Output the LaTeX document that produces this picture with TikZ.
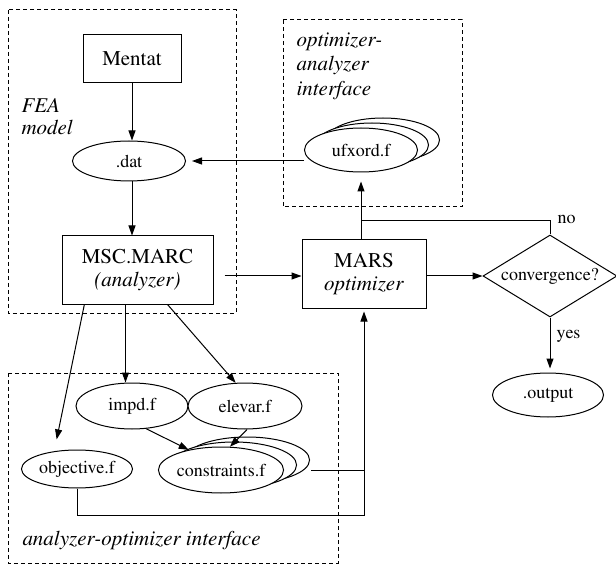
\documentclass[tikz,border=0pt]{standalone}
\usepackage[T1]{fontenc}
\usepackage{mathptmx}
\usetikzlibrary{arrows.meta,shapes.geometric,shadows}

\begin{document}
\begin{tikzpicture}[x = 1pt, y = -1pt, line width = 1pt,
    >={Triangle[length = 10pt, width = 7pt]},
    box/.style = {draw, rectangle, inner sep = 0pt, align = center,
                  font = \fontsize{21}{23}\selectfont},
    file/.style = {draw, ellipse, fill = white, inner sep = 0pt,
                   font = \fontsize{18}{20}\selectfont},
    decision/.style = {draw, diamond, aspect = 1.63, inner sep = 0pt,
                       minimum width = 134pt, minimum height = 82pt,
                       font = \fontsize{18}{20}\selectfont},
    group/.style = {dash pattern = on 4pt off 3pt},
    grouplbl/.style = {inner sep = 0pt, align = left,
                       font = \fontsize{21}{22}\selectfont\itshape},
    lbl/.style = {inner sep = 0pt, font = \fontsize{18}{20}\selectfont}]
  \useasboundingbox (0, 0) rectangle (616, 564);

  % dashed groups
  \draw [group] (8, 10) rectangle (236, 313);
  \draw [group] (283, 20) rectangle (462, 207);
  \draw [group] (8, 373) rectangle (338, 563);
  \node [grouplbl, anchor = north west] (fealbl) at (21, 98) {FEA\\model};
  \node [grouplbl, anchor = north west,
         font = \fontsize{21}{24.5}\selectfont\itshape] (oailbl) at (296, 32)
        {optimizer-\\analyzer\\interface};
  \node [grouplbl, anchor = base west] (aoilbl) at (22, 545)
        {analyzer-optimizer interface};

  % FEA model
  \node [box, minimum width = 98pt, minimum height = 48pt] (mentat) at (132, 59) {Mentat};
  \node [file, minimum width = 113pt, minimum height = 40pt] (dat) at (129, 161) {.dat};
  \node [box, minimum width = 151pt, minimum height = 68pt] (msc) at (137.5, 270)
        {MSC.MARC\\\textit{(analyzer)}};
  \draw [->] (mentat.south) -- (mentat.south |- dat.north);
  \draw [->] (mentat.south |- dat.south) -- (mentat.south |- msc.north);

  % optimizer
  \node [box, minimum width = 124pt, minimum height = 68pt] (mars) at (364, 274)
        {MARS\\\textit{optimizer}};
  \node [decision] (conv) at (550, 276) {convergence?};
  \node [file, minimum width = 111pt, minimum height = 44pt] (output) at (548, 395) {.output};
  \node [file, minimum width = 113pt, minimum height = 44pt,
         copy shadow = {shadow xshift = 22pt, shadow yshift = 10pt, draw, fill = white},
         copy shadow = {shadow xshift = 11pt, shadow yshift = 5pt, draw, fill = white}]
        (ufx) at (361, 150) {ufxord.f};
  \draw [->, shorten <= 11pt] (msc.east |- conv) -- (mars.west |- conv);
  \draw [->] (mars.east |- conv) -- (conv.west);
  \draw [->, shorten >= 4pt] (conv.south) -- (conv.south |- output.north);
  \node [lbl, anchor = base west] (yes) at (556, 338) {yes};
  \draw [->, shorten >= 9pt] (ufx |- mars.north) -- (ufx.south);
  \draw (conv.north) -- ++(0, -14) coordinate (nobend) -- (nobend -| ufx);
  \node [lbl, anchor = base west] (no) at (557, 224) {no};
  \draw [->, shorten >= 6pt] (ufx.west |- dat) -- (dat.east);

  % analyzer-optimizer interface
  \node [file, minimum width = 112pt, minimum height = 46pt] (impd) at (132, 406) {impd.f};
  \node [file, minimum width = 114pt, minimum height = 46pt] (elevar) at (245, 406) {elevar.f};
  \node [file, minimum width = 111pt, minimum height = 38pt] (obj) at (77, 469) {objective.f};
  \node [file, minimum width = 125pt, minimum height = 46pt,
         copy shadow = {shadow xshift = 26pt, shadow yshift = 10pt, draw, fill = white},
         copy shadow = {shadow xshift = 13pt, shadow yshift = 5pt, draw, fill = white}]
        (cons) at (221, 470) {constraints.f};
  \draw [->, shorten >= 12pt] (msc.213) -- (obj.142);
  \draw [->] ([xshift = -12pt]msc.south) -- ([xshift = -12pt]msc.south |- impd.north);
  \draw [->] ([xshift = 30pt]msc.south) -- (elevar.112);
  \draw [->] (impd.-58) -- (cons.148);
  \draw [->] (elevar.-85) -- (cons.69);
  \draw ([xshift = 27pt]cons.east) -- (cons.east -| mars.south);
  \draw [->, shorten >= 3pt] (obj.south) -- ++(0, 27) -| (mars.south);
\end{tikzpicture}
\end{document}
